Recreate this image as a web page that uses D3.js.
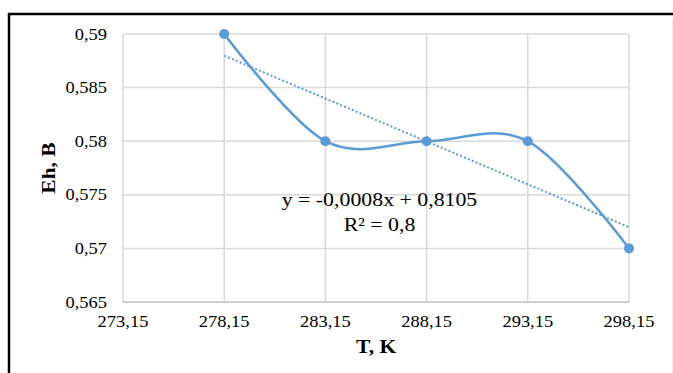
<!DOCTYPE html>
<html>
<head>
<meta charset="utf-8">
<script src="https://cdn.jsdelivr.net/npm/d3@7"></script>
<style>
  body { margin: 0; background: #fff; }
  svg { display: block; }
  text { font-family: "Liberation Serif", "Times New Roman", serif; fill: #000; }
</style>
</head>
<body>
<script>
// temperatures (K) and measured Eh (V)
const temps = [278.15, 283.15, 288.15, 293.15, 298.15]
const ehValues = [0.59, 0.58, 0.58, 0.58, 0.57]
const xTicks = [273.15, 278.15, 283.15, 288.15, 293.15, 298.15]
const yTicks = [0.565, 0.57, 0.575, 0.58, 0.585, 0.59]
const trendSlope = -0.0008
const trendIntercept = 0.8105
const trendText = ['y = -0,0008x  + 0,8105', 'R² = 0,8']

const W = 673, H = 373
const plot = { left: 123, right: 629, top: 34, bottom: 302 }
const blue = '#5B9BD5'
const grid = '#D9D9D9'
const stretch = 'scale(1.12,1)'

const comma = (v, digits) => d3.format(`.${digits}f`)(v).replace('.', ',')

const svg = d3.select('body').append('svg').attr('width', W).attr('height', H)

svg.append('rect').attr('width', W).attr('height', H).attr('fill', '#fff')

// frame of the picture (top and left black, faint right)
svg.append('line').attr('x1', 8).attr('x2', W).attr('y1', 14).attr('y2', 14)
  .attr('stroke', '#000').attr('stroke-width', 2.5)
svg.append('line').attr('x1', 9).attr('x2', 9).attr('y1', 13).attr('y2', H)
  .attr('stroke', '#000').attr('stroke-width', 2.5)
svg.append('line').attr('x1', 672.5).attr('x2', 672.5).attr('y1', 20).attr('y2', H)
  .attr('stroke', '#eee').attr('stroke-width', 1)

const x = d3.scaleLinear().domain([273.15, 298.15]).range([plot.left, plot.right])
const y = d3.scaleLinear().domain([0.565, 0.59]).range([plot.bottom, plot.top])

// gridlines
svg.append('g').selectAll('line.v').data(xTicks).join('line')
  .attr('x1', d => x(d)).attr('x2', d => x(d))
  .attr('y1', plot.top).attr('y2', plot.bottom)
  .attr('stroke', grid).attr('stroke-width', 1.5)
svg.append('g').selectAll('line.h').data(yTicks).join('line')
  .attr('x1', plot.left).attr('x2', plot.right)
  .attr('y1', d => y(d)).attr('y2', d => y(d))
  .attr('stroke', d => d === 0.565 ? '#BFBFBF' : grid).attr('stroke-width', 1.5)

// tick labels
svg.append('g').selectAll('text').data(yTicks).join('text')
  .attr('transform', d => `translate(${plot.left - 16},${y(d) + 5.5}) ${stretch}`)
  .attr('text-anchor', 'end').attr('font-size', 16.5)
  .text(d => comma(d, d === 0.59 || d === 0.58 || d === 0.57 ? 2 : 3))
svg.append('g').selectAll('text').data(xTicks).join('text')
  .attr('transform', d => `translate(${x(d)},${plot.bottom + 25}) ${stretch}`)
  .attr('text-anchor', 'middle').attr('font-size', 16.5)
  .text(d => comma(d, 2))

// axis titles
svg.append('text')
  .attr('transform', `translate(${(plot.left + plot.right) / 2},353) scale(1.13,1)`)
  .attr('text-anchor', 'middle').attr('font-size', 19).attr('font-weight', 'bold')
  .text('T, K')
svg.append('text')
  .attr('transform', `translate(55,${(plot.top + plot.bottom) / 2}) rotate(-90) scale(1.13,1)`)
  .attr('text-anchor', 'middle').attr('font-size', 19).attr('font-weight', 'bold')
  .text('Eh, B')

// linear trendline (dotted)
const trendX = [temps[0], temps[temps.length - 1]]
svg.append('line')
  .attr('x1', x(trendX[0])).attr('y1', y(trendSlope * trendX[0] + trendIntercept))
  .attr('x2', x(trendX[1])).attr('y2', y(trendSlope * trendX[1] + trendIntercept))
  .attr('stroke', blue).attr('stroke-width', 2).attr('stroke-dasharray', '2,2.2')

// smoothed series line
const pts = temps.map((t, i) => [t, ehValues[i]])
svg.append('path').datum(pts)
  .attr('d', d3.line().x(d => x(d[0])).y(d => y(d[1])).curve(d3.curveCardinal.tension(0)))
  .attr('fill', 'none').attr('stroke', blue).attr('stroke-width', 2.5)
svg.append('g').selectAll('circle').data(pts).join('circle')
  .attr('cx', d => x(d[0])).attr('cy', d => y(d[1])).attr('r', 5)
  .attr('fill', blue)

// trendline equation
svg.append('g').selectAll('text').data(trendText).join('text')
  .attr('transform', (d, i) => `translate(379.5,${206 + i * 24.5}) ${stretch}`)
  .attr('text-anchor', 'middle').attr('font-size', 19.5)
  .text(d => d)
</script>
</body>
</html>
